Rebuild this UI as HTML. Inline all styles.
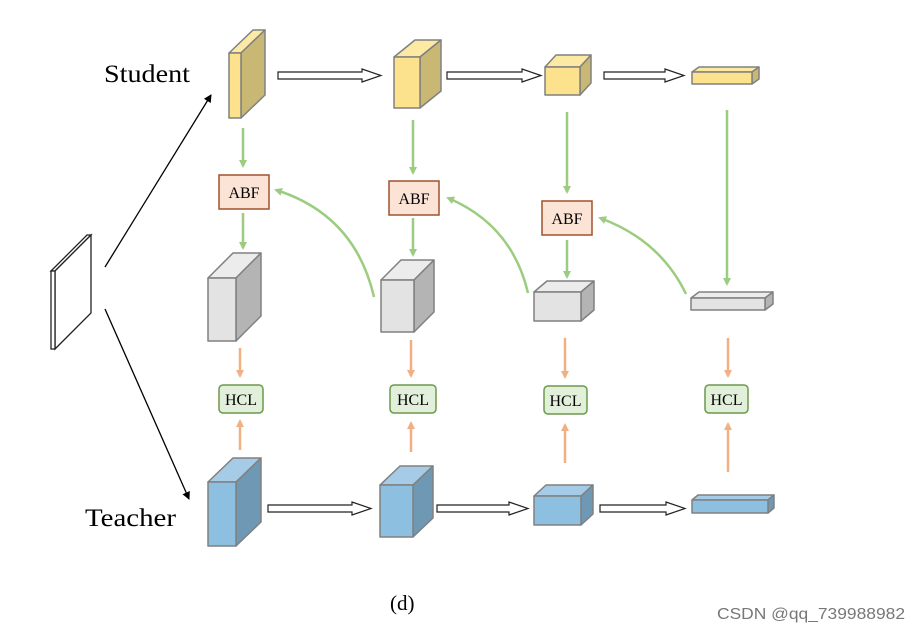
<!DOCTYPE html>
<html><head><meta charset="utf-8"><style>body{margin:0;background:#fff}svg{display:block}</style></head><body>
<svg width="922" height="632" viewBox="0 0 922 632" xmlns="http://www.w3.org/2000/svg" font-family="Liberation Serif, serif">
<defs>
<marker id="ga" markerWidth="8" markerHeight="8" refX="6" refY="4" orient="auto" markerUnits="userSpaceOnUse"><path d="M0,0 L8,4 L0,8 Z" fill="#9ccc7f"/></marker>
<marker id="oa" markerWidth="8" markerHeight="8" refX="6" refY="4" orient="auto" markerUnits="userSpaceOnUse"><path d="M0,0 L8,4 L0,8 Z" fill="#f0b084"/></marker>
<marker id="ba" markerWidth="8" markerHeight="8" refX="7" refY="4" orient="auto" markerUnits="userSpaceOnUse"><path d="M0,0 L8,4 L0,8 Z" fill="#000"/></marker>
</defs>
<g stroke="#808080" stroke-width="1.5" stroke-linejoin="round">
<path d="M229,53 L253,30 L265,30 L241,53Z" fill="#fbe9a4"/><path d="M241,53 L265,30 L265,95 L241,118Z" fill="#c9b874"/><rect x="229" y="53" width="12" height="65" fill="#fde28d"/>
<path d="M394,57 L415,40 L441,40 L420,57Z" fill="#fbe9a4"/><path d="M420,57 L441,40 L441,91 L420,108Z" fill="#c9b874"/><rect x="394" y="57" width="26" height="51" fill="#fde28d"/>
<path d="M545,67 L556,55 L591,55 L580,67Z" fill="#fbe9a4"/><path d="M580,67 L591,55 L591,83 L580,95Z" fill="#c9b874"/><rect x="545" y="67" width="35" height="28" fill="#fde28d"/>
<path d="M692,72 L699,67 L759,67 L752,72Z" fill="#fbe9a4"/><path d="M752,72 L759,67 L759,79 L752,84Z" fill="#c9b874"/><rect x="692" y="72" width="60" height="12" fill="#fde28d"/>
<path d="M208,278 L233,253 L261,253 L236,278Z" fill="#ececec"/><path d="M236,278 L261,253 L261,316 L236,341Z" fill="#b4b4b4"/><rect x="208" y="278" width="28" height="63" fill="#e3e3e3"/>
<path d="M381,280 L401,260 L434,260 L414,280Z" fill="#ececec"/><path d="M414,280 L434,260 L434,312 L414,332Z" fill="#b4b4b4"/><rect x="381" y="280" width="33" height="52" fill="#e3e3e3"/>
<path d="M534,292 L547,281 L594,281 L581,292Z" fill="#ececec"/><path d="M581,292 L594,281 L594,310 L581,321Z" fill="#b4b4b4"/><rect x="534" y="292" width="47" height="29" fill="#e3e3e3"/>
<path d="M691,298 L699,292 L773,292 L765,298Z" fill="#ececec"/><path d="M765,298 L773,292 L773,304 L765,310Z" fill="#b4b4b4"/><rect x="691" y="298" width="74" height="12" fill="#e3e3e3"/>
<path d="M208,482 L233,458 L261,458 L236,482Z" fill="#a6cbe6"/><path d="M236,482 L261,458 L261,522 L236,546Z" fill="#6f98b4"/><rect x="208" y="482" width="28" height="64" fill="#8dbfe0"/>
<path d="M380,485 L400,466 L433,466 L413,485Z" fill="#a6cbe6"/><path d="M413,485 L433,466 L433,518 L413,537Z" fill="#6f98b4"/><rect x="380" y="485" width="33" height="52" fill="#8dbfe0"/>
<path d="M534,496 L546,485 L593,485 L581,496Z" fill="#a6cbe6"/><path d="M581,496 L593,485 L593,514 L581,525Z" fill="#6f98b4"/><rect x="534" y="496" width="47" height="29" fill="#8dbfe0"/>
<path d="M692,500 L698,495 L774,495 L768,500Z" fill="#a6cbe6"/><path d="M768,500 L774,495 L774,508 L768,513Z" fill="#6f98b4"/><rect x="692" y="500" width="76" height="13" fill="#8dbfe0"/>
</g>
<g fill="#fff" stroke="#222" stroke-width="1.2">
<path d="M278,72 L362,72 L362,69 L381,75.5 L362,82 L362,79 L278,79Z"/>
<path d="M447,72 L522,72 L522,69 L541,75.5 L522,82 L522,79 L447,79Z"/>
<path d="M604,72 L665,72 L665,69 L684,75.5 L665,82 L665,79 L604,79Z"/>
<path d="M268,505 L352,505 L352,502 L371,508.5 L352,515 L352,512 L268,512Z"/>
<path d="M437,505 L509,505 L509,502 L528,508.5 L509,515 L509,512 L437,512Z"/>
<path d="M600,505 L666,505 L666,502 L685,508.5 L666,515 L666,512 L600,512Z"/>
</g>
<g fill="#fff" stroke="#222" stroke-width="1.3">
<path d="M51,271 L87,235 L91,235 L55,271Z"/>
<path d="M55,271 L91,235 L91,313 L55,349Z"/>
<rect x="51" y="271" width="4" height="78"/>
</g>
<line x1="105" y1="267" x2="211" y2="95" stroke="#000" stroke-width="1.3" marker-end="url(#ba)"/>
<line x1="105" y1="309" x2="189" y2="499" stroke="#000" stroke-width="1.3" marker-end="url(#ba)"/>
<g stroke="#9ccc7f" stroke-width="2.5" fill="none" marker-end="url(#ga)">
<line x1="243" y1="128" x2="243" y2="166"/><line x1="243" y1="213" x2="243" y2="248"/>
<line x1="413" y1="120" x2="413" y2="173"/><line x1="413" y1="218" x2="413" y2="255"/>
<line x1="567" y1="112" x2="567" y2="192"/><line x1="567" y1="240" x2="567" y2="277"/>
<line x1="727" y1="110" x2="727" y2="284"/>
<path d="M374,297 Q355,215 276,190"/>
<path d="M528,293 Q512,225 448,198"/>
<path d="M686,294 Q660,240 600,218"/>
</g>
<g stroke="#f0b084" stroke-width="2.5" marker-end="url(#oa)">
<line x1="240" y1="348" x2="240" y2="376"/><line x1="240" y1="450" x2="240" y2="421"/>
<line x1="411" y1="340" x2="411" y2="376"/><line x1="411" y1="452" x2="411" y2="423"/>
<line x1="565" y1="338" x2="565" y2="377"/><line x1="565" y1="463" x2="565" y2="425"/>
<line x1="728" y1="338" x2="728" y2="376"/><line x1="728" y1="472" x2="728" y2="424"/>
</g>
<g fill="#fbe3d5" stroke="#a0522d" stroke-width="1.5">
<rect x="219" y="175" width="50" height="34"/><rect x="389" y="181" width="50" height="34"/><rect x="542" y="201" width="50" height="34"/>
</g>
<g font-size="16" text-anchor="middle" fill="#000">
<text x="244" y="198">ABF</text><text x="414" y="204">ABF</text><text x="567" y="224">ABF</text>
</g>
<g fill="#e2efda" stroke="#6a9a4a" stroke-width="1.5">
<rect x="219" y="385" width="44" height="28" rx="4"/><rect x="390" y="385" width="46" height="28" rx="4"/><rect x="544" y="386" width="43" height="28" rx="4"/><rect x="705" y="385" width="43" height="28" rx="4"/>
</g>
<g font-size="16" text-anchor="middle" fill="#000">
<text x="241" y="405">HCL</text><text x="413" y="405">HCL</text><text x="565.5" y="406">HCL</text><text x="726.5" y="405">HCL</text>
</g>
<text x="104" y="82" font-size="25" textLength="86" lengthAdjust="spacingAndGlyphs">Student</text>
<text x="85" y="526" font-size="25" textLength="91" lengthAdjust="spacingAndGlyphs">Teacher</text>
<text x="390" y="610" font-size="21">(d)</text>
<text x="717" y="619" font-size="15.5" fill="#777" font-family="Liberation Sans, sans-serif" textLength="188" lengthAdjust="spacingAndGlyphs">CSDN @qq_739988982</text>
</svg>
</body></html>
